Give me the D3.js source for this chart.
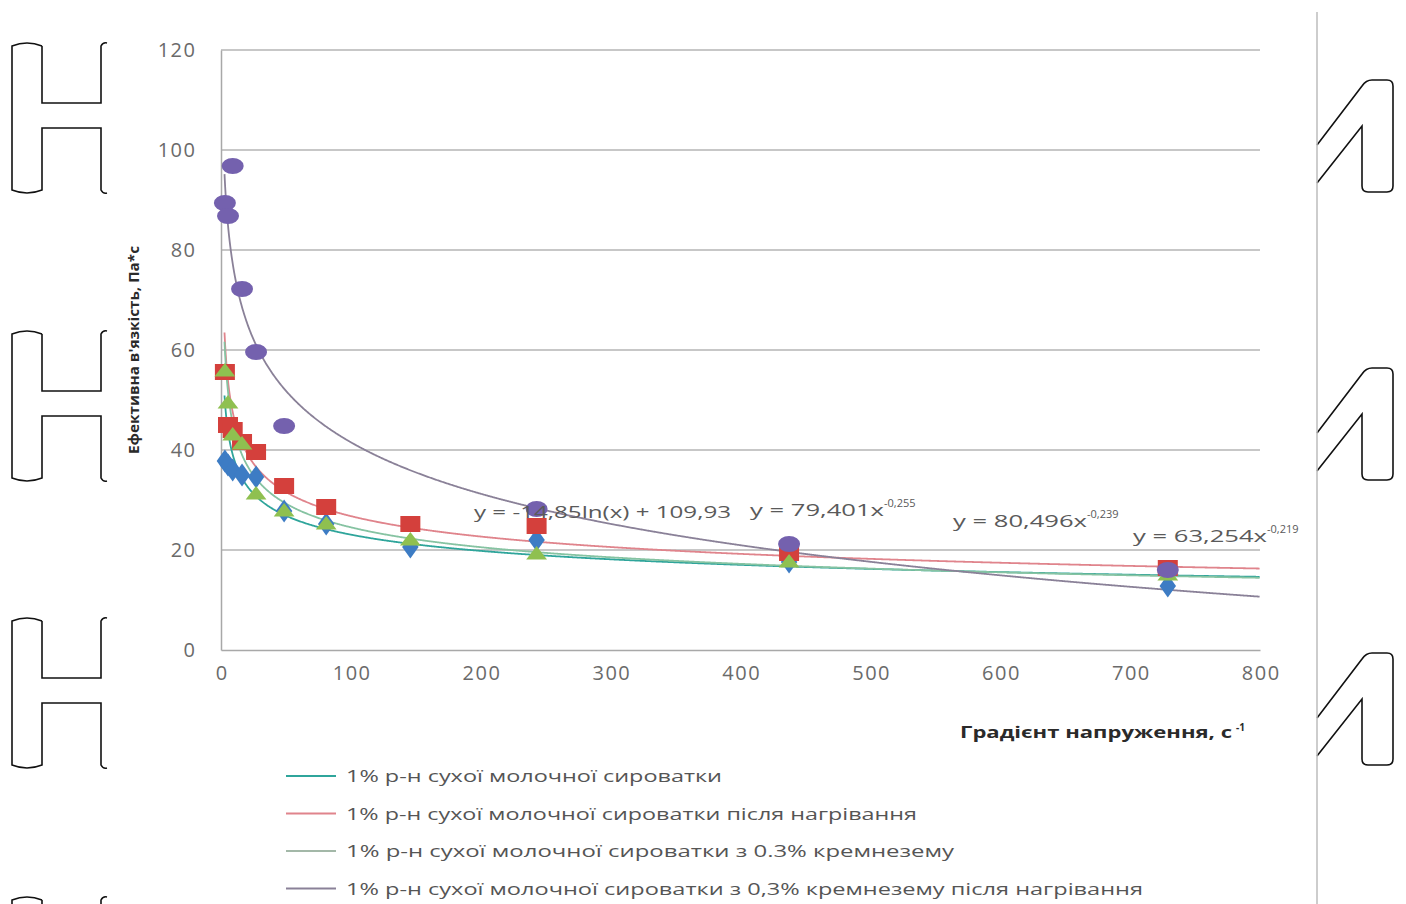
<!DOCTYPE html>
<html>
<head>
<meta charset="utf-8">
<script src="https://cdn.jsdelivr.net/npm/d3@7"></script>
<style>
  html, body { margin: 0; padding: 0; background: #fff; }
  svg { display: block; }
  text { font-family: "Open Sans", "DejaVu Sans", sans-serif; }
</style>
</head>
<body>
<script>
// Shear-rate grid of the rotational viscometer, 1/s
const shearRates = [3, 5.4, 9, 16.2, 27, 48.6, 81, 145.8, 243, 437.4, 729];

// Effective viscosity readings, Pa*s (null = point not measured)
const whey       = [37.8, 37.0, 36.0, 35.0, 34.6, 27.8, 25.2, 20.6, 22.0, 17.6, 12.8];
const wheyHeated = [55.6, 45.0, 44.0, 41.6, 39.6, 32.8, 28.6, 25.2, 24.8, 19.4, 16.4];
const wheySilica = [55.6, 49.2, 42.8, 41.0, 31.0, 27.6, 25.0, 21.8, 19.0, 17.4, 14.8];
const wheySilicaHeated = [89.4, 86.8, 96.8, 72.2, 59.6, 44.8, null, null, 28.2, 21.2, 16.0];

// Trend-line coefficients
const fitWhey       = { type: "power", a: 63.254, b: -0.219 };
const fitWheyHeated = { type: "power", a: 80.496, b: -0.239 };
const fitWheySilica = { type: "power", a: 79.401, b: -0.255 };
const fitWheySilicaHeated = { type: "log", a: -14.85, b: 109.93 };

const seriesNames = [
  "1% р-н сухої молочної сироватки",
  "1% р-н сухої молочної сироватки після нагрівання",
  "1% р-н сухої молочної сироватки з 0.3% кремнезему",
  "1% р-н сухої молочної сироватки з 0,3% кремнезему після нагрівання"
];
const equationTexts = [
  { base: "y = -14,85ln(x) + 109,93", sup: "" },
  { base: "y = 79,401x", sup: "-0,255" },
  { base: "y = 80,496x", sup: "-0,239" },
  { base: "y = 63,254x", sup: "-0,219" }
];
const xTicks = [0, 100, 200, 300, 400, 500, 600, 700, 800];
const yTicks = [0, 20, 40, 60, 80, 100, 120];
const xTitle = "Градієнт напруження, с";
const yTitle = "Ефективна в'язкість, Па*с";

const W = 1406, H = 904;
const svg = d3.select("body").append("svg").attr("width", W).attr("height", H);

const x = d3.scaleLinear().domain([0, 800]).range([221, 1260]);
const y = d3.scaleLinear().domain([0, 120]).range([650, 50]);

// ---------- page edge marks ----------
const deco = svg.append("g").attr("fill", "none").attr("stroke", "#111").attr("stroke-width", 1.6);
[0, 288, 575, 854].forEach(dy => {
  const g = deco.append("g").attr("transform", `translate(0,${dy})`);
  g.append("path").attr("d",
    "M42,46 Q27,40 12,46 L12,190 Q27,196 42,190 L42,128 L101,128 L101,190 Q103,194 107,193");
  g.append("path").attr("d", "M42,46 L42,103 L101,103 L101,46 Q103,42 107,43");
});
svg.append("line").attr("x1", 1317).attr("x2", 1317).attr("y1", 12).attr("y2", H)
  .attr("stroke", "#bdbdbd").attr("stroke-width", 1.5);
[0, 288, 573].forEach(dy => {
  deco.append("path").attr("transform", `translate(0,${dy})`).attr("d",
    "M1317,145 L1362,86 Q1366,80 1372,80 L1387,80 Q1393,80 1393,86 L1393,186 Q1393,192 1387,192 " +
    "L1368,192 Q1362,192 1362,186 L1362,126 L1317,183");
});

// ---------- grid and axes ----------
const grid = svg.append("g");
grid.selectAll("line").data(yTicks.filter(d => d > 0)).join("line")
  .attr("x1", x(0)).attr("x2", x(800))
  .attr("y1", d => y(d)).attr("y2", d => y(d))
  .attr("stroke", "#b4b4b4").attr("stroke-width", 1.3);

const yAxis = svg.append("g").attr("transform", `translate(${x(0)},0)`)
  .call(d3.axisLeft(y).tickValues(yTicks).tickSize(0).tickPadding(26));
const xAxis = svg.append("g").attr("transform", `translate(0,${y(0)})`)
  .call(d3.axisBottom(x).tickValues(xTicks).tickSize(0).tickPadding(16));
[yAxis, xAxis].forEach(a => {
  a.select(".domain").attr("stroke", "#a8a8a8").attr("stroke-width", 1.5);
  a.selectAll("text").attr("font-size", 20).attr("fill", "#6a6a6a")
    .attr("letter-spacing", "1.5px");
});
yAxis.selectAll("text").attr("dx", "1.5px");
xAxis.selectAll("text").attr("dx", "0.75px");

// ---------- trend lines ----------
const fits = [fitWhey, fitWheyHeated, fitWheySilica, fitWheySilicaHeated];
const trendColors = ["#2fa59b", "#e0848c", "#86c3a2", "#8a8198"];
const fitFn = f => f.type === "power" ? (v => f.a * Math.pow(v, f.b)) : (v => f.a * Math.log(v) + f.b);
const xs = d3.range(2.7, 800.1, 0.5);
const line = d3.line().x(d => x(d[0])).y(d => y(d[1])).curve(d3.curveLinear);
fits.forEach((f, i) => {
  const fn = fitFn(f);
  svg.append("path")
    .attr("d", line(xs.map(v => [v, fn(v)]).filter(p => p[1] <= 120)))
    .attr("fill", "none").attr("stroke", trendColors[i]).attr("stroke-width", 1.8);
});

// ---------- markers ----------
const pts = arr => shearRates.map((r, i) => [r, arr[i]]).filter(p => p[1] != null);
const mk = svg.append("g");
// blue diamonds
mk.selectAll(".d").data(pts(whey)).join("path")
  .attr("d", d3.symbol(d3.symbolDiamond, 150)())
  .attr("transform", d => `translate(${x(d[0])},${y(d[1])}) scale(1.25,1)`)
  .attr("fill", "#3d7cc4");
// red squares
mk.selectAll(".s").data(pts(wheyHeated)).join("rect")
  .attr("x", d => x(d[0]) - 10).attr("y", d => y(d[1]) - 8)
  .attr("width", 20).attr("height", 16).attr("fill", "#d4403c");
// green triangles
mk.selectAll(".t").data(pts(wheySilica)).join("path")
  .attr("d", d3.symbol(d3.symbolTriangle, 130)())
  .attr("transform", d => `translate(${x(d[0])},${y(d[1])}) scale(1.2,0.9)`)
  .attr("fill", "#8fc050");
// purple circles
mk.selectAll(".c").data(pts(wheySilicaHeated)).join("ellipse")
  .attr("cx", d => x(d[0])).attr("cy", d => y(d[1]))
  .attr("rx", 11).attr("ry", 8).attr("fill", "#7461ae");

// ---------- trend equations ----------
const eqPos = [[474, 518], [750, 516], [953, 527], [1133, 542]];
const eqBaseLen = [257, 134, 134, 134];
equationTexts.forEach((e, i) => {
  const t = svg.append("text").attr("x", eqPos[i][0]).attr("y", eqPos[i][1])
    .attr("font-size", 17).attr("fill", "#5a5a5a");
  t.append("tspan").attr("textLength", eqBaseLen[i]).attr("lengthAdjust", "spacingAndGlyphs").text(e.base);
  if (e.sup) t.append("tspan").attr("dy", -9).attr("font-size", 11).text(e.sup);
});

// ---------- axis titles ----------
const xt = svg.append("text").attr("x", 960).attr("y", 738)
  .attr("font-size", 15.5).attr("font-weight", "bold").attr("fill", "#2a2a2a");
xt.append("tspan").attr("textLength", 272).attr("lengthAdjust", "spacingAndGlyphs").text(xTitle);
xt.append("tspan").attr("dx", 4).attr("dy", -7).attr("font-size", 10).text("-1");

svg.append("text").attr("transform", "translate(139,350) rotate(-90)")
  .attr("text-anchor", "middle").attr("font-size", 15).attr("font-weight", "bold")
  .attr("fill", "#2a2a2a").attr("textLength", 208).attr("lengthAdjust", "spacingAndGlyphs").text(yTitle);

// ---------- legend ----------
const legendColors = ["#2fa59b", "#e0848c", "#a3b8a8", "#8a8198"];
const legendLen = [376, 571, 608, 797];
const lg = svg.append("g");
seriesNames.forEach((name, i) => {
  const yy = 776 + i * 37.5;
  lg.append("line").attr("x1", 286).attr("x2", 336).attr("y1", yy).attr("y2", yy)
    .attr("stroke", legendColors[i]).attr("stroke-width", 1.8);
  lg.append("text").attr("x", 346).attr("y", yy + 6).attr("font-size", 17)
    .attr("fill", "#555").attr("textLength", legendLen[i]).attr("lengthAdjust", "spacingAndGlyphs")
    .text(name);
});
</script>
</body>
</html>
